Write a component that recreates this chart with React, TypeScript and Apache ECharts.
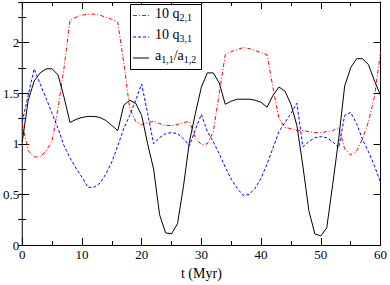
import React, { useEffect, useRef } from "react";
import * as echarts from "echarts";

const tMyr = [
  0, 1, 2, 3, 4, 5, 6, 7, 8, 9, 10, 11, 12, 13, 14, 15, 16, 17, 18, 19, 20,
  21, 22, 23, 24, 25, 26, 27, 28, 29, 30, 31, 32, 33, 34, 35, 36, 37, 38, 39, 40,
  41, 42, 43, 44, 45, 46, 47, 48, 49, 50, 51, 52, 53, 54, 55, 56, 57, 58, 59, 60,
];

const q21x10 = [
  1.2, 0.93, 0.87, 0.87, 0.93, 1.03, 1.35, 1.75, 2.22, 2.25, 2.27, 2.28, 2.28, 2.27, 2.25, 2.23, 2.2, 1.8, 1.35, 1.22, 1.19,
  1.21, 1.22, 1.2, 1.18, 1.18, 1.19, 1.21, 1.22, 1.06, 0.99, 1.0, 1.12, 1.5, 1.88, 1.91, 1.93, 1.95, 1.94, 1.92, 1.9,
  1.88, 1.55, 1.25, 1.16, 1.15, 1.13, 1.13, 1.12, 1.11, 1.11, 1.12, 1.13, 1.16, 0.95, 0.89, 0.93, 1.05, 1.22, 1.47, 1.9,
];

const q31x10 = [
  1.22, 1.48, 1.74, 1.59, 1.45, 1.3, 1.15, 0.98, 0.86, 0.76, 0.67, 0.57, 0.57, 0.61, 0.7, 0.82, 0.98, 1.15, 1.28, 1.43, 1.59,
  1.3, 1.0, 1.06, 1.1, 1.11, 1.1, 1.05, 0.98, 1.14, 1.29, 1.12, 1.02, 0.9, 0.77, 0.65, 0.56, 0.49, 0.5, 0.56, 0.66,
  0.8, 0.96, 1.12, 1.21, 1.3, 1.4, 0.97, 1.02, 1.06, 1.07, 1.06, 1.02, 0.96, 1.28, 1.31, 1.2, 1.04, 0.92, 0.78, 0.62,
];

const a11a12 = [
  1.02, 1.43, 1.62, 1.7, 1.74, 1.74, 1.68, 1.46, 1.21, 1.24, 1.26, 1.27, 1.27, 1.26, 1.23, 1.18, 1.13, 1.38, 1.43, 1.4, 1.28,
  1.0, 0.75, 0.3, 0.12, 0.11, 0.21, 0.58, 1.02, 1.3, 1.56, 1.7, 1.7, 1.6, 1.39, 1.42, 1.44, 1.44, 1.44, 1.43, 1.41,
  1.36, 1.48, 1.56, 1.52, 1.39, 1.18, 0.78, 0.34, 0.11, 0.09, 0.17, 0.6, 1.05, 1.57, 1.75, 1.84, 1.84, 1.78, 1.62, 1.48,
];

const xTickLabels = ["0", "10", "20", "30", "40", "50", "60"];
const yTickLabels = ["0", "0.5", "1", "1.5", "2"];

const FONT = "'Liberation Serif', 'DejaVu Serif', serif";

function pairs(ys: number[]) {
  return tMyr.map((t, i) => [t, ys[i]]);
}

export default function App() {
  const ref = useRef<HTMLDivElement>(null);

  useEffect(() => {
    if (!ref.current) return;
    const chart = echarts.init(ref.current, null, { renderer: "svg" });

    const axisLine = { show: true, onZero: false, lineStyle: { color: "#000", width: 1 } };
    const majorTick = { show: true, inside: true, length: 7, lineStyle: { color: "#000", width: 1 } };
    const minorTickY = { show: true, inside: true, length: 4, lineStyle: { color: "#000", width: 1 } };

    const baseX = {
      type: "value" as const,
      min: 0,
      max: 60,
      interval: 10,
      splitLine: { show: false },
      axisLine,
      axisTick: majorTick,
      minorTick: { show: true, splitNumber: 2, length: 4, lineStyle: { color: "#000", width: 1 } },
    };

    const sub = (s: string) => `{s|${s}}`;
    const rich = {
      b: { fontFamily: FONT, fontSize: 14, lineHeight: 16, verticalAlign: "top", fill: "#000" },
      s: { fontFamily: FONT, fontSize: 10, lineHeight: 11, padding: [11, 0, 0, 0], verticalAlign: "bottom", fill: "#000" },
    };

    const legendRows = [
      { y: 15.5, color: "#ff0000", dash: [4, 2, 1, 2], text: `{b|10 q}${sub("2,1")}` },
      { y: 37, color: "#0000ff", dash: [3, 2], text: `{b|10 q}${sub("3,1")}` },
      { y: 58, color: "#000000", dash: null as null | number[], text: `{b|a}${sub("1,1")}{b|/a}${sub("1,2")}` },
    ];

    const graphic: any[] = [
      {
        type: "rect",
        shape: { x: 130.5, y: 4.5, width: 71, height: 65 },
        style: { fill: "#fff", stroke: "#000", lineWidth: 1 },
        z: 100,
      },
    ];
    legendRows.forEach((r) => {
      graphic.push({
        type: "line",
        shape: { x1: 133, y1: r.y, x2: 149, y2: r.y },
        style: { stroke: r.color, lineWidth: 1, lineDash: r.dash || undefined },
        z: 101,
      });
      graphic.push({
        type: "text",
        x: 155,
        y: r.y - 9.5,
        style: { text: r.text, rich, verticalAlign: "top", align: "left", fill: "#000" },
        z: 101,
      });
    });

    chart.setOption({
      animation: false,
      backgroundColor: "#fff",
      grid: { left: 22, right: 8, top: 2, bottom: 32 },
      xAxis: [
        {
          ...baseX,
          position: "bottom",
          axisLabel: {
            show: true,
            fontFamily: FONT,
            fontSize: 13,
            color: "#000",
            margin: 3,
            formatter: (v: number) => xTickLabels[Math.round(v / 10)] ?? "",
          },
          name: "t (Myr)",
          nameLocation: "middle",
          nameGap: 21,
          nameTextStyle: { fontFamily: FONT, fontSize: 14, color: "#000" },
        },
        { ...baseX, position: "top", axisLabel: { show: false } },
      ],
      yAxis: [
        {
          type: "value",
          min: 0,
          max: 2.4,
          interval: 0.5,
          position: "left",
          splitLine: { show: false },
          axisLine,
          axisTick: majorTick,
          axisLabel: {
            show: true,
            fontFamily: FONT,
            fontSize: 13,
            color: "#000",
            margin: 3,
            showMaxLabel: false,
            formatter: (v: number) => {
              const i = Math.round(v / 0.5);
              return Math.abs(v - i * 0.5) < 1e-6 ? yTickLabels[i] ?? "" : "";
            },
          },
        },
        {
          type: "value",
          min: 0,
          max: 2.4,
          interval: 0.5,
          position: "right",
          splitLine: { show: false },
          axisLine,
          axisTick: majorTick,
          axisLabel: { show: false },
        },
        {
          type: "value",
          min: 0,
          max: 2.4,
          interval: 0.25,
          position: "left",
          splitLine: { show: false },
          axisLine: { show: false },
          axisTick: minorTickY,
          axisLabel: { show: false },
        },
        {
          type: "value",
          min: 0,
          max: 2.4,
          interval: 0.25,
          position: "right",
          splitLine: { show: false },
          axisLine: { show: false },
          axisTick: minorTickY,
          axisLabel: { show: false },
        },
      ],
      series: [
        {
          name: "10 q2,1",
          type: "line",
          data: pairs(q21x10),
          showSymbol: false,
          symbol: "none",
          lineStyle: { color: "#ff0000", width: 1, type: [4, 2, 1, 2] },
        },
        {
          name: "10 q3,1",
          type: "line",
          data: pairs(q31x10),
          showSymbol: false,
          symbol: "none",
          lineStyle: { color: "#0000ff", width: 1, type: [3, 2] },
        },
        {
          name: "a1,1/a1,2",
          type: "line",
          data: pairs(a11a12),
          showSymbol: false,
          symbol: "none",
          lineStyle: { color: "#000000", width: 1 },
        },
      ],
      graphic,
    });

    return () => chart.dispose();
  }, []);

  return (
    <div
      ref={ref}
      style={{ position: "absolute", left: 0, top: 0, width: 390, height: 285, background: "#fff" }}
    />
  );
}
